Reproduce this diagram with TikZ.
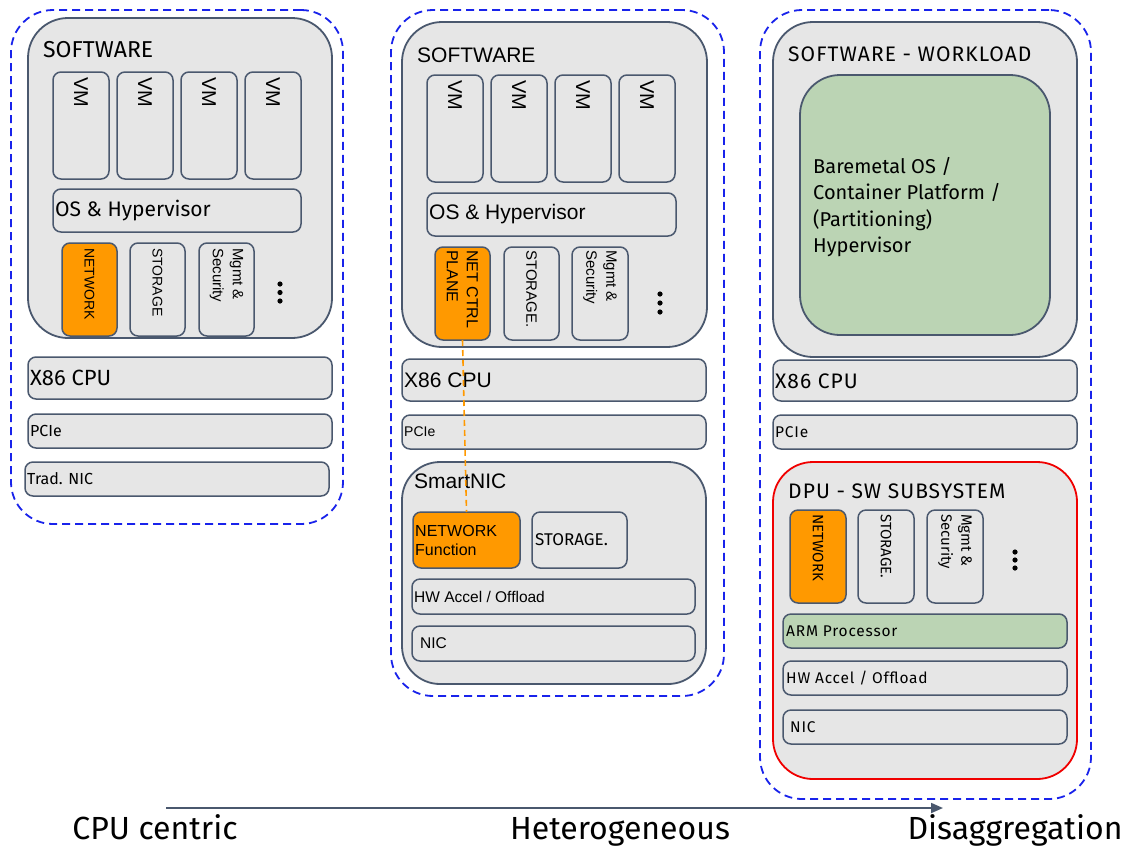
\documentclass[tikz,border=0pt]{standalone}
\usepackage{fontspec}
\setmainfont{Fira Sans}
\newfontfamily\ar{Liberation Sans}
\newfontfamily\widefont[LetterSpace=5]{Fira Sans}
\usetikzlibrary{arrows.meta}
\definecolor{bord}{RGB}{74,88,110}
\definecolor{boxgray}{RGB}{230,230,230}
\definecolor{orng}{RGB}{255,153,0}
\definecolor{grn}{RGB}{187,212,180}
\definecolor{dblue}{RGB}{25,35,235}
\definecolor{dred}{RGB}{240,0,0}
\newcommand\fs[2]{\fontsize{#1}{#2}\selectfont}
\newcommand\mybox[5][]{\node[bx,minimum width=#4pt,minimum height=#5pt,#1] (#2) at (#3) {};}
\tikzset{
  bx/.style={draw=bord, fill=boxgray, line width=1.5pt, rounded corners=8pt, inner sep=0pt, outer sep=0pt, anchor=north west},
  big/.style={rounded corners=40pt, line width=1.8pt},
  orangebox/.style={fill=orng},
  greenbox/.style={fill=grn},
  outer/.style={draw=dblue, fill=none, line width=1.8pt, dash pattern=on 8pt off 5pt, rounded corners=42pt},
  lbl/.style={anchor=west, inner sep=0pt, text=black},
  rot/.style={rotate=-90, anchor=west, inner sep=0pt, align=left, text=black},
  axislbl/.style={font=\fs{32}{36}, inner sep=0pt, anchor=base},
}
\begin{document}
\begin{tikzpicture}[x=1pt,y=-1pt]
\useasboundingbox[fill=white] (0,0) rectangle (1126,847);

% ---------------- Panel 1 ----------------
\mybox[outer]{dash1}{11,10}{332}{514}
\mybox[big]{sw1}{28,18}{304}{320}
\node[lbl,font=\fs{23}{27}] (sw1t) at (43,50) {SOFTWARE};
\foreach \x [count=\i] in {53,117,181,245}{
  \mybox{vm1\i}{\x,72}{56}{107}
  \node[rot,font=\ar\fs{20}{24}] (vm1t\i) at (\x+28,77) {VM};
}
\mybox{os1}{53,189}{248}{43}
\node[lbl,font=\fs{21}{25}] (os1t) at (55,211) {OS \& Hypervisor};
\mybox[orangebox]{net1}{62,243}{55}{93}
\node[rot,font=\ar\fs{14}{17}] (net1t) at (89.5,248) {NETWORK};
\mybox{sto1}{130,243}{55}{93}
\node[rot,font=\ar\fs{14}{17}] (sto1t) at (157.5,248) {STORAGE};
\mybox{mg1}{199,243}{55}{93}
\node[rot,font=\ar\fs{15}{20}] (mg1t) at (226.5,248) {Mgmt \&\\Security};
\foreach \y in {284,292.5,301} \fill (280,\y) circle (2.6pt);
\mybox{cpu1}{28,357}{304}{42}
\node[lbl,font=\fs{22}{26}] (cpu1t) at (30,378) {X86 CPU};
\mybox{pci1}{28,414}{304}{34}
\node[lbl,font=\fs{16}{19}] (pci1t) at (30,431) {PCIe};
\mybox{nic1}{25,462}{304}{34}
\node[lbl,font=\fs{16}{19}] (nic1t) at (27,479) {Trad. NIC};

% ---------------- Panel 2 ----------------
\mybox[outer]{dash2}{391,10}{333}{686}
\mybox[big]{sw2}{402,22}{305}{325}
\node[lbl,font=\ar\fs{21}{25}] (sw2t) at (417,55) {SOFTWARE};
\foreach \x [count=\i] in {427,491,555,619}{
  \mybox{vm2\i}{\x,75}{56}{107}
  \node[rot,font=\ar\fs{20}{24}] (vm2t\i) at (\x+28,80) {VM};
}
\mybox{os2}{427,193}{249}{43}
\node[lbl,font=\ar\fs{21}{25}] (os2t) at (429,214) {OS \& Hypervisor};
\mybox[orangebox]{ctrl2}{435,247}{55}{93}
\node[rot,font=\ar\fs{16}{20}] (ctrl2t) at (462.5,250) {NET CTRL\\PLANE};
\mybox{sto2}{504,247}{55}{93}
\node[rot,font=\ar\fs{15}{18}] (sto2t) at (531.5,250) {STORAGE.};
\mybox{mg2}{572,247}{56}{93}
\node[rot,font=\ar\fs{15}{20}] (mg2t) at (600,250) {Mgmt \&\\Security};
\foreach \y in {294,303,312} \fill (660,\y) circle (2.6pt);
\mybox{cpu2}{402,359}{304}{42}
\node[lbl,font=\ar\fs{21}{25}] (cpu2t) at (404,380) {X86 CPU};
\mybox{pci2}{402,415}{304}{34}
\node[lbl,font=\ar\fs{14}{17}] (pci2t) at (404,432) {PCIe};
\mybox[big,rounded corners=38pt]{snic}{402,462}{304}{222}
\node[lbl,font=\ar\fs{21}{25}] (snict) at (414,481) {SmartNIC};
\mybox[orangebox]{nf}{413,512}{107}{56}
\node[lbl,font=\ar\fs{16}{19},align=left] (nft) at (415,540) {NETWORK\\Function};
\mybox{sto2b}{532,512}{95}{56}
\node[lbl,font=\fs{17}{20}] (sto2bt) at (535,540) {STORAGE.};
\mybox{hw2}{412,579}{283}{35}
\node[lbl,font=\ar\fs{15.5}{18}] (hw2t) at (414,597) {HW Accel / Offload};
\mybox{nic2}{412,626}{283}{35}
\node[lbl,font=\ar\fs{15.5}{18}] (nic2t) at (420,643) {NIC};
\draw[orng, line width=1.6pt, dash pattern=on 6pt off 4pt] (ctrl2.south) -- (nf.north);

% ---------------- Panel 3 ----------------
\mybox[outer]{dash3}{760,10}{331}{789}
\mybox[big]{sw3}{773,22}{304}{335}
\node[lbl,font=\widefont\fs{21}{25}] (sw3t) at (788,54) {SOFTWARE - WORKLOAD};
\mybox[greenbox,rounded corners=40pt,line width=1.8pt]{os3}{800,75}{250}{260}
\node[lbl,font=\fs{20}{26.5},align=left] (os3t) at (813,207) {Baremetal OS /\\Container Platform /\\(Partitioning)\\Hypervisor};
\mybox{cpu3}{773,360}{304}{41}
\node[lbl,font=\widefont\fs{21}{25}] (cpu3t) at (775,381) {X86 CPU};
\mybox{pci3}{773,415}{304}{34}
\node[lbl,font=\widefont\fs{15.5}{18}] (pci3t) at (775,432) {PCIe};
\mybox[big,draw=dred]{dpu}{773,462}{304}{317}
\node[lbl,font=\widefont\fs{21}{25}] (dput) at (788,491) {DPU - SW SUBSYSTEM};
\mybox[orangebox]{net3}{790,510}{56}{93}
\node[rot,font=\fs{15}{18}] (net3t) at (818,514) {NETWORK};
\mybox{sto3}{858,510}{56}{93}
\node[rot,font=\fs{15}{18}] (sto3t) at (886,514) {STORAGE.};
\mybox{mg3}{927,510}{56}{93}
\node[rot,font=\fs{15}{20}] (mg3t) at (955,514) {Mgmt \&\\Security};
\foreach \y in {552,560,568} \fill (1015,\y) circle (2.6pt);
\mybox[greenbox]{arm}{783,614}{284}{34}
\node[lbl,font=\widefont\fs{15.5}{18}] (armt) at (786,631) {ARM Processor};
\mybox{hw3}{783,661}{284}{34}
\node[lbl,font=\widefont\fs{15.5}{18}] (hw3t) at (786,678) {HW Accel / Offload};
\mybox{nic3}{783,710}{284}{34}
\node[lbl,font=\widefont\fs{15.5}{18}] (nic3t) at (790,727) {NIC};

% ---------------- Axis ----------------
\coordinate (a0) at (166,808);
\coordinate (a1) at (943,808);
\draw[bord, line width=1.8pt, -{Triangle[length=12pt,width=10pt]}] (a0) -- (a1);
\node[axislbl] (l1) at (155,839) {CPU centric};
\node[axislbl] (l2) at (620,839) {Heterogeneous};
\node[axislbl] (l3) at (1015,839) {Disaggregation};
\end{tikzpicture}
\end{document}
